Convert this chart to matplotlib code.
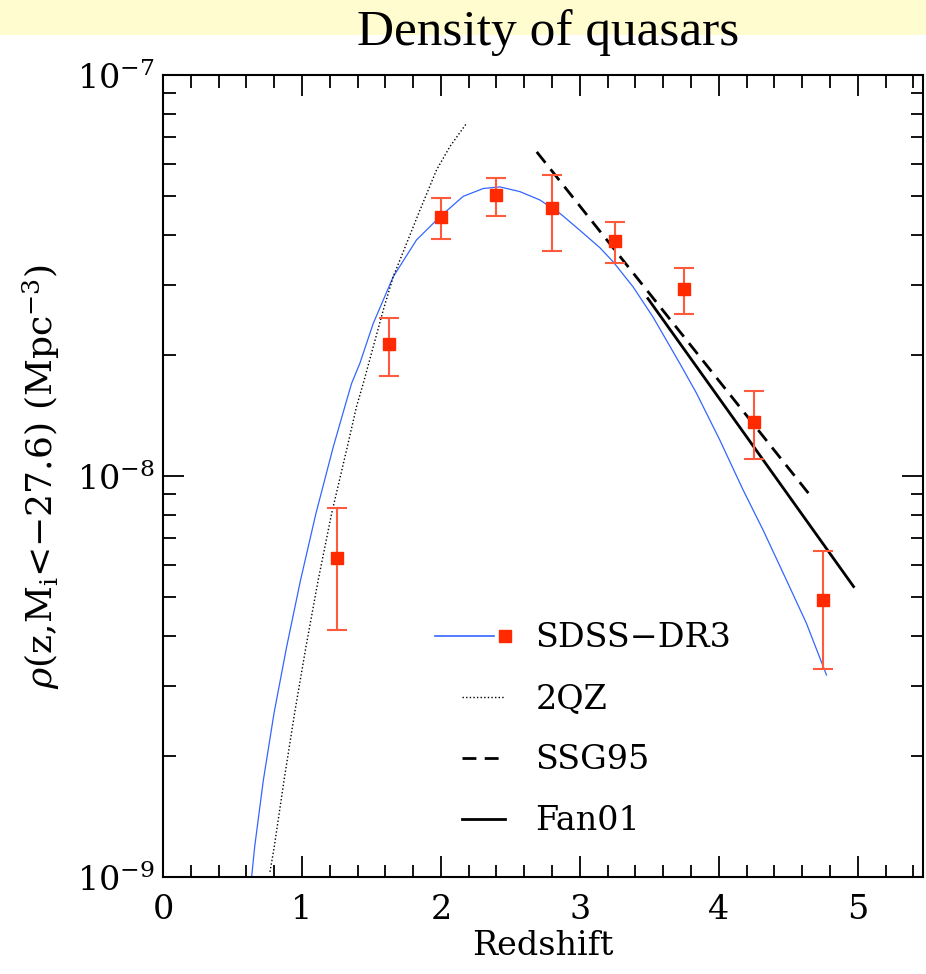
import numpy as np
import matplotlib
matplotlib.use('Agg')
import matplotlib.pyplot as plt
from matplotlib.lines import Line2D
from matplotlib.legend_handler import HandlerBase
from matplotlib.patches import Rectangle
from matplotlib.ticker import LogLocator, MultipleLocator

plt.rcParams['font.family'] = 'DejaVu Serif'
plt.rcParams['mathtext.fontset'] = 'dejavuserif'

# SDSS-DR3 binned densities with error bars
z_pts = [1.25, 1.63, 2.00, 2.40, 2.80, 3.25, 3.75, 4.25, 4.75]
rho_pts = [6.25e-9, 2.13e-8, 4.43e-8, 5.02e-8, 4.66e-8, 3.85e-8, 2.92e-8, 1.36e-8, 4.9e-9]
rho_hi = [8.3e-9, 2.48e-8, 4.93e-8, 5.54e-8, 5.63e-8, 4.3e-8, 3.3e-8, 1.63e-8, 6.5e-9]
rho_lo = [4.13e-9, 1.78e-8, 3.9e-8, 4.45e-8, 3.64e-8, 3.4e-8, 2.53e-8, 1.1e-8, 3.3e-9]

# SDSS-DR3 model fit
z_fit = [0.638, 0.660, 0.722, 0.799, 0.890, 0.990, 1.101, 1.225, 1.309, 1.357, 1.417,
         1.513, 1.657, 1.825, 1.993, 2.160, 2.304, 2.424, 2.568, 2.712, 2.856, 3.000,
         3.144, 3.240, 3.384, 3.527, 3.719, 3.839, 4.007, 4.175, 4.319, 4.487, 4.631, 4.775]
rho_fit = [1.0e-9, 1.19e-9, 1.74e-9, 2.56e-9, 3.75e-9, 5.5e-9, 8.07e-9, 1.18e-8, 1.49e-8,
           1.70e-8, 1.91e-8, 2.40e-8, 3.14e-8, 3.88e-8, 4.43e-8, 4.98e-8, 5.21e-8, 5.26e-8,
           5.12e-8, 4.88e-8, 4.52e-8, 4.1e-8, 3.71e-8, 3.42e-8, 2.96e-8, 2.49e-8, 1.91e-8,
           1.61e-8, 1.23e-8, 9.23e-9, 7.33e-9, 5.5e-9, 4.29e-9, 3.19e-9]

# 2QZ
z_2qz = [0.770, 0.801, 0.871, 0.947, 1.029, 1.117, 1.214, 1.326, 1.393, 1.441, 1.585,
         1.657, 1.753, 1.849, 1.969, 2.065, 2.185]
rho_2qz = [1.03e-9, 1.19e-9, 1.74e-9, 2.56e-9, 3.75e-9, 5.5e-9, 8.07e-9, 1.18e-8, 1.49e-8,
           1.70e-8, 2.59e-8, 3.14e-8, 3.8e-8, 4.6e-8, 5.8e-8, 6.63e-8, 7.58e-8]

# SSG95 and Fan01
z_ssg = [2.69, 4.655]
rho_ssg = [6.43e-8, 8.97e-9]
z_fan = [3.49, 4.97]
rho_fan = [2.77e-8, 5.3e-9]

blue = '#3366FF'
red = '#FF2A00'
errc = '#FF5A3C'

fig = plt.figure(figsize=(9.26, 9.74), dpi=100)

# yellow banner behind the title
fig.patches.append(Rectangle((0, 1 - 35 / 974), 1, 35 / 974, transform=fig.transFigure,
                             facecolor='#FFFDD0', edgecolor='none', zorder=0))
fig.text(0.592, 1 - 45 / 974, 'Density of quasars', family='Liberation Serif', fontsize=37,
         ha='center', va='baseline')

ax = fig.add_axes([0.176, 0.0996, 0.8208, 0.8234])

ax.plot(z_fit, rho_fit, color=blue, lw=0.9)
ax.plot(z_2qz, rho_2qz, color='black', lw=1.0, ls=(0, (1, 1.6)))
ax.plot(z_ssg, rho_ssg, color='black', lw=2.0, ls=(0, (5, 3)))
ax.plot(z_fan, rho_fan, color='black', lw=2.0)

yerr = [np.array(rho_pts) - np.array(rho_lo), np.array(rho_hi) - np.array(rho_pts)]
ax.errorbar(z_pts, rho_pts, yerr=yerr, fmt='none', ecolor=errc, elinewidth=1.5,
            capsize=7, capthick=1.5, zorder=3)
ax.plot(z_pts, rho_pts, ls='none', marker='s', ms=9, color=red, zorder=4)

ax.set_yscale('log')
ax.set_xlim(0, 5.47)
ax.set_ylim(1e-9, 1e-7)

ax.xaxis.set_major_locator(MultipleLocator(1))
ax.xaxis.set_minor_locator(MultipleLocator(0.2))
ax.yaxis.set_major_locator(LogLocator(base=10, numticks=5))
ax.yaxis.set_minor_locator(LogLocator(base=10, subs=np.arange(2, 10), numticks=20))
ax.yaxis.set_minor_formatter(plt.NullFormatter())

ax.tick_params(which='both', direction='in', top=True, right=True, width=1.3)
ax.tick_params(which='major', length=15, labelsize=24)
ax.tick_params(which='minor', length=9)
ax.tick_params(axis='x', which='major', pad=12)
ax.tick_params(axis='y', which='major', pad=6)
for s in ax.spines.values():
    s.set_linewidth(1.5)

ax.set_xlabel('Redshift', fontsize=24, labelpad=3)
ax.set_ylabel(r'$\rho$(z,M$_{\rm i}$<$-$27.6) (Mpc$^{-3}$)', fontsize=26, labelpad=11)


class SDSSHandler(HandlerBase):
    def create_artists(self, legend, orig_handle, xdescent, ydescent, width, height, fontsize, trans):
        y = height / 2 - ydescent
        line = Line2D([-xdescent - 0.62 * width, -xdescent + 0.74 * width], [y, y],
                      color=blue, lw=1.2, transform=trans)
        sq = Line2D([-xdescent + 1.0 * width], [y], marker='s', ms=9, color=red,
                    ls='none', transform=trans)
        return [line, sq]


sdss_h = Line2D([], [], color=blue)
h_2qz = Line2D([], [], color='black', lw=1.0, ls=(0, (1, 1.6)))
h_ssg = Line2D([], [], color='black', lw=2.0, ls=(0, (5, 3)))
h_fan = Line2D([], [], color='black', lw=2.0)

ax.legend([sdss_h, h_2qz, h_ssg, h_fan], ['SDSS\u2212DR3', '2QZ', 'SSG95', 'Fan01'],
          handler_map={sdss_h: SDSSHandler()}, loc='upper left',
          bbox_to_anchor=(0.354, 0.355), frameon=False, fontsize=24,
          handlelength=1.3, handletextpad=0.9, labelspacing=0.87)

fig.savefig('out.png', dpi=100)
